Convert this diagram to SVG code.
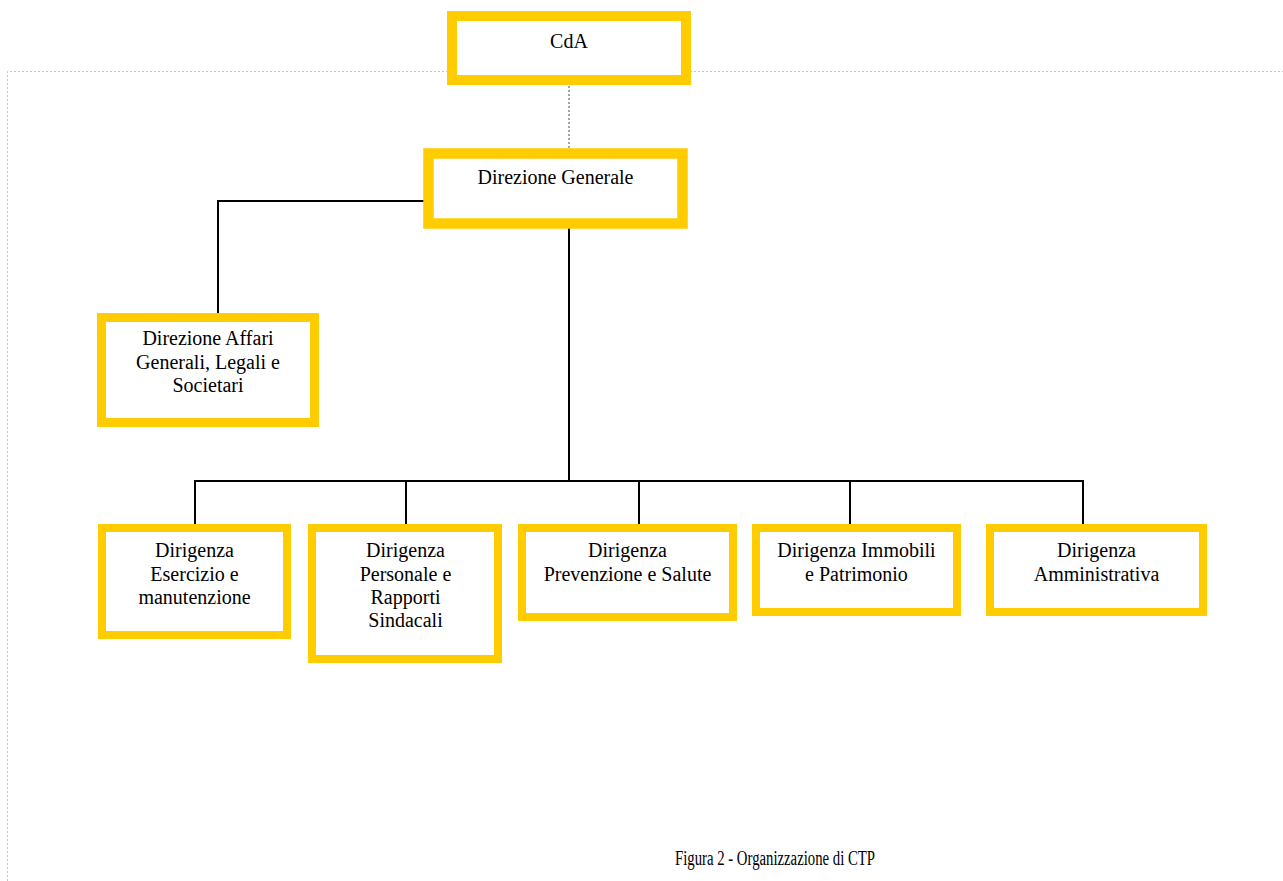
<svg xmlns="http://www.w3.org/2000/svg" width="1283" height="881" viewBox="0 0 1283 881">
<style>
.box{fill:#ffffff;stroke:#ffcc00}
.t{font-family:"Liberation Serif","Times New Roman",serif;font-size:20px;fill:#000;text-anchor:middle}
.cap{font-family:"Liberation Serif","Times New Roman",serif;font-size:20px;fill:#000;text-anchor:middle}
.ln{fill:none;stroke:#000;stroke-width:2}
.frame{fill:none;stroke:#c4c4c4;stroke-width:1;stroke-dasharray:2 2}
.dot{fill:none;stroke:#888;stroke-width:1.5;stroke-dasharray:2 2}
</style>
<rect width="1283" height="881" fill="#ffffff"/>
<path class="frame" d="M7.5,881 V71.5 H1283"/>
<g id="connectors">
<path class="dot" d="M569,86 V154"/>
<path class="ln" d="M427,201 H218 V314"/>
<path class="ln" d="M569,224 V481"/>
<path class="ln" d="M195,525 V481 H1083 V525"/>
<path class="ln" d="M406,481 V525"/>
<path class="ln" d="M639,481 V525"/>
<path class="ln" d="M850,481 V525"/>
</g>
<g id="cda">
<rect class="box" x="452" y="16" width="234" height="64" stroke-width="10"/>
<text class="t" x="569" y="48">CdA</text>
</g>
<g id="direzione-generale">
<rect class="box" x="428.5" y="153.5" width="254" height="70" stroke-width="10.5"/>
<text class="t" x="555.5" y="184">Direzione Generale</text>
</g>
<g id="affari-generali">
<rect class="box" x="101.5" y="317.5" width="213" height="105" stroke-width="9"/>
<text class="t" x="208" y="345">Direzione Affari</text>
<text class="t" x="208" y="369">Generali, Legali e</text>
<text class="t" x="208" y="392">Societari</text>
</g>
<g id="esercizio">
<rect class="box" x="102" y="528" width="185" height="107" stroke-width="8"/>
<text class="t" x="194.5" y="557">Dirigenza</text>
<text class="t" x="194.5" y="581">Esercizio e</text>
<text class="t" x="194.5" y="604">manutenzione</text>
</g>
<g id="personale">
<rect class="box" x="312" y="528" width="186" height="131" stroke-width="8"/>
<text class="t" x="405.5" y="557">Dirigenza</text>
<text class="t" x="405.5" y="581">Personale e</text>
<text class="t" x="405.5" y="604">Rapporti</text>
<text class="t" x="405.5" y="627">Sindacali</text>
</g>
<g id="prevenzione">
<rect class="box" x="522" y="528" width="211" height="89" stroke-width="8"/>
<text class="t" x="627.5" y="557">Dirigenza</text>
<text class="t" x="627.5" y="581">Prevenzione e Salute</text>
</g>
<g id="immobili">
<rect class="box" x="756" y="528" width="201" height="84" stroke-width="8"/>
<text class="t" x="856.5" y="557">Dirigenza Immobili</text>
<text class="t" x="856.5" y="581">e Patrimonio</text>
</g>
<g id="amministrativa">
<rect class="box" x="990" y="528" width="213" height="84" stroke-width="8"/>
<text class="t" x="1096.5" y="557">Dirigenza</text>
<text class="t" x="1096.5" y="581">Amministrativa</text>
</g>
<text class="cap" x="775" y="865" textLength="200" lengthAdjust="spacingAndGlyphs">Figura 2 - Organizzazione di CTP</text>
</svg>
